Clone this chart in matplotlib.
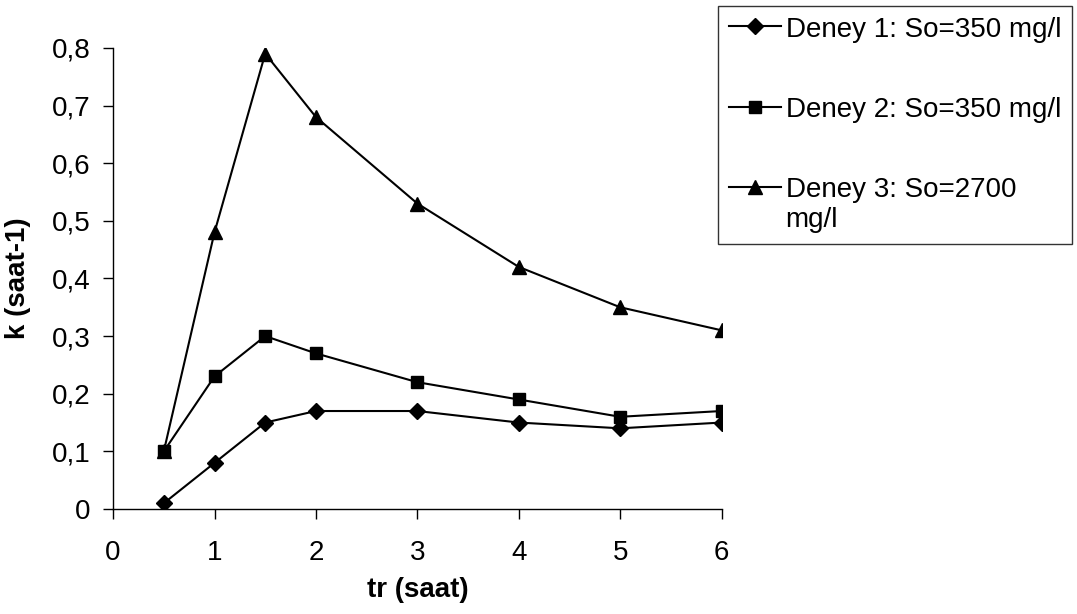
import numpy as np
import matplotlib
matplotlib.use("agg")
import matplotlib.pyplot as plt
from matplotlib.ticker import FuncFormatter

plt.rcParams["font.family"] = ["Liberation Sans", "DejaVu Sans"]

# residence time (h) and rate constants for the three runs
tr = [0.5, 1, 1.5, 2, 3, 4, 5, 6]
k_deney1 = [0.01, 0.08, 0.15, 0.17, 0.17, 0.15, 0.14, 0.15]
k_deney2 = [0.10, 0.23, 0.30, 0.27, 0.22, 0.19, 0.16, 0.17]
k_deney3 = [0.10, 0.48, 0.79, 0.68, 0.53, 0.42, 0.35, 0.31]
labels = ["Deney 1: So=350 mg/l", "Deney 2: So=350 mg/l",
          "Deney 3: So=2700\nmg/l"]

fig = plt.figure(figsize=(10.77, 6.14), dpi=100)
ax = fig.add_axes([0.105, 0.171, 0.565, 0.751])

ax.plot(tr, k_deney1, color="black", lw=1.5, marker="D", ms=8,
        label=labels[0], zorder=4)
ax.plot(tr, k_deney2, color="black", lw=1.5, marker="s", ms=8.5,
        label=labels[1], zorder=3)
ax.plot(tr, k_deney3, color="black", lw=1.5, marker="^", ms=10,
        label=labels[2], zorder=2)

ax.set_xlim(0, 6)
ax.set_ylim(0, 0.8)
ax.set_xticks(np.arange(0, 7, 1))
ax.set_yticks(np.arange(0, 0.81, 0.1))
ax.yaxis.set_major_formatter(
    FuncFormatter(lambda v, p: ("%g" % round(v, 1)).replace(".", ",")))

for s in ["top", "right"]:
    ax.spines[s].set_visible(False)
for s in ["left", "bottom"]:
    ax.spines[s].set_linewidth(1.0)
    ax.spines[s].set_color("black")
ax.tick_params(axis="both", direction="out", length=7, width=1.0,
               labelsize=20)
ax.tick_params(axis="x", pad=15)
ax.tick_params(axis="y", pad=9)

ax.set_xlabel("tr (saat)", fontsize=20, fontweight="bold")
ax.set_ylabel("k (saat-1)", fontsize=20, fontweight="bold")
ax.xaxis.set_label_coords(0.5, -0.148)
ax.yaxis.set_label_coords(-0.135, 0.5)

leg = ax.legend(loc="upper left", bbox_to_anchor=(0.6667, 0.99),
                bbox_transform=fig.transFigure, fontsize=20,
                frameon=True, fancybox=False, labelspacing=1.95,
                handlelength=1.9, handletextpad=0.15, borderpad=0.38,
                borderaxespad=0)
leg.get_frame().set_edgecolor("black")
leg.get_frame().set_linewidth(1.0)
# put each handle level with the first line of its label
for col in leg._legend_handle_box.get_children():
    for row in col.get_children():
        row.align = "top"

plt.savefig("out.png", dpi=100)
